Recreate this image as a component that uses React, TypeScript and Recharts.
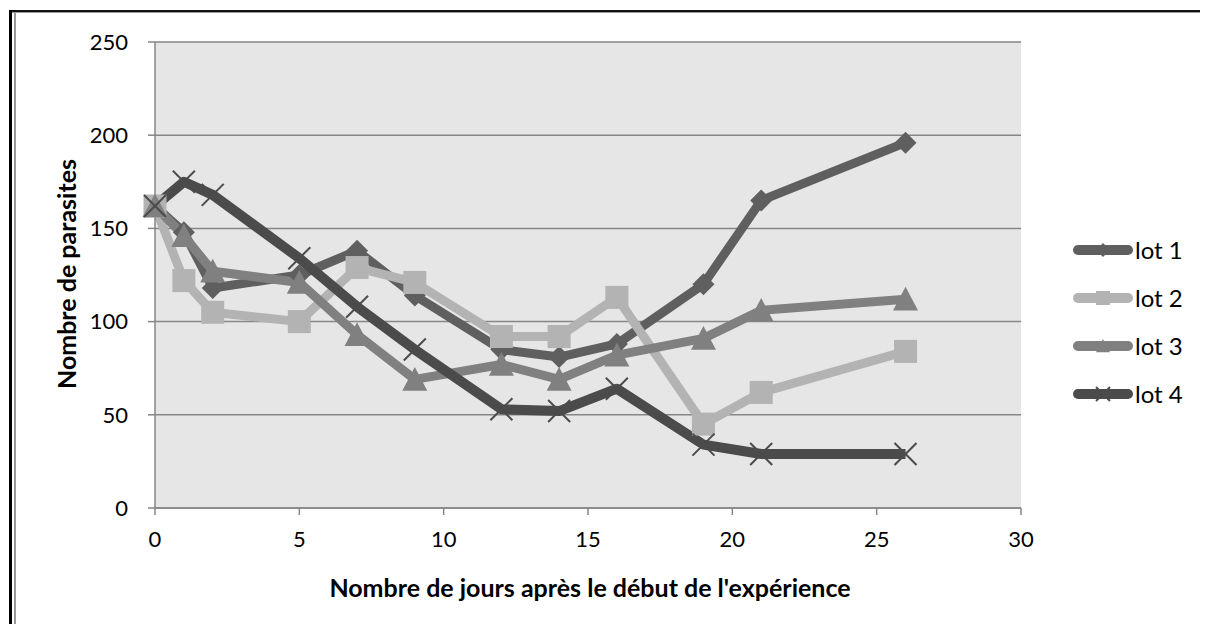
import React from "react";
import { LineChart, Line, XAxis, YAxis, CartesianGrid } from "recharts";

const days = [0, 1, 2, 5, 7, 9, 12, 14, 16, 19, 21, 26];
const lot1 = [162, 148, 118, 125, 138, 114, 85, 81, 88, 120, 165, 196];
const lot2 = [162, 122, 105, 100, 129, 121, 92, 92, 113, 45, 62, 84];
const lot3 = [162, 146, 127, 121, 93, 69, 77, 69, 82, 91, 106, 112];
const lot4 = [162, 175, 168, 134, 108, 85, 53, 52, 64, 34, 29, 29];
const xTicks = [0, 5, 10, 15, 20, 25, 30];
const yTicks = [0, 50, 100, 150, 200, 250];
const seriesNames = ["lot 1", "lot 2", "lot 3", "lot 4"];

const data = days.map((d, i) => ({
  day: d,
  lot1: lot1[i],
  lot2: lot2[i],
  lot3: lot3[i],
  lot4: lot4[i],
}));

const C1 = "#5f5f5f";
const C2 = "#b3b3b3";
const C3 = "#808080";
const C4 = "#4b4b4b";
const FONT = "Lato, 'Open Sans', sans-serif";

type MP = { cx?: number; cy?: number; s?: number };

const Diamond = ({ cx = 0, cy = 0, s = 11 }: MP) => (
  <polygon points={`${cx},${cy - s} ${cx + s},${cy} ${cx},${cy + s} ${cx - s},${cy}`} fill={C1} />
);
const Square = ({ cx = 0, cy = 0, s = 11.5 }: MP) => (
  <rect x={cx - s} y={cy - s} width={2 * s} height={2 * s} fill={C2} />
);
const Triangle = ({ cx = 0, cy = 0, s = 12.5 }: MP) => (
  <polygon points={`${cx},${cy - s} ${cx + s},${cy + s * 0.9} ${cx - s},${cy + s * 0.9}`} fill={C3} />
);
const Cross = ({ cx = 0, cy = 0, s = 11 }: MP) => (
  <g stroke={C4} strokeWidth={2}>
    <line x1={cx - s} y1={cy - s} x2={cx + s} y2={cy + s} />
    <line x1={cx - s} y1={cy + s} x2={cx + s} y2={cy - s} />
  </g>
);

const markers = [Diamond, Square, Triangle, Cross];
const colors = [C1, C2, C3, C4];

const LegendBox = () => (
  <div style={{ position: "absolute", left: 1060, top: 218, width: 140, fontFamily: FONT, fontSize: 24, color: "#000" }}>
    {seriesNames.map((n, i) => {
      const M = markers[i];
      return (
        <div key={n} style={{ height: 48, display: "flex", alignItems: "center" }}>
          <svg width={67} height={24} style={{ display: "block" }}>
            <line x1={10} y1={12} x2={60} y2={12} stroke={colors[i]} strokeWidth={10} strokeLinecap="round" />
            <M cx={35} cy={12} s={7} />
          </svg>
          <span style={{ lineHeight: "24px" }}>{n}</span>
        </div>
      );
    })}
  </div>
);

export default function App() {
  return (
    <div style={{ position: "relative", width: 1200, height: 616, background: "#fff" }}>
      <div style={{ position: "absolute", left: 1, top: 2, width: 1199, height: 2, background: "#111" }} />
      <div style={{ position: "absolute", left: 4, top: 4, width: 1196, height: 1, background: "#999" }} />
      <div style={{ position: "absolute", left: 1, top: 2, width: 3, height: 614, background: "#000" }} />
      <div style={{ position: "absolute", left: 6, top: 4, width: 2, height: 612, background: "#999" }} />
      <LineChart
        width={1200}
        height={616}
        data={data}
        margin={{ top: 34, right: 187, bottom: 36, left: 0 }}
        style={{ position: "absolute", left: 0, top: 0 }}
      >
        <CartesianGrid vertical={false} stroke="#868686" strokeWidth={1.5} fill="#e6e6e6" fillOpacity={1} />
        <XAxis
          dataKey="day"
          type="number"
          domain={[0, 30]}
          ticks={xTicks}
          height={80}
          stroke="#868686"
          strokeWidth={1.5}
          tickSize={7}
          tickMargin={16}
          tick={{ fill: "#000", fontSize: 22, fontFamily: FONT }}
        />
        <YAxis
          type="number"
          domain={[0, 250]}
          ticks={yTicks}
          width={147}
          stroke="#868686"
          strokeWidth={1.5}
          tickSize={7}
          tickMargin={20}
          tick={{ fill: "#000", fontSize: 22, fontFamily: FONT }}
        />
        <Line dataKey="lot1" name="lot 1" stroke={C1} strokeWidth={9} strokeLinejoin="round" isAnimationActive={false}
          dot={(p: any) => <Diamond key={`d1-${p.index}`} cx={p.cx} cy={p.cy} />} />
        <Line dataKey="lot2" name="lot 2" stroke={C2} strokeWidth={9} strokeLinejoin="round" isAnimationActive={false}
          dot={(p: any) => <Square key={`d2-${p.index}`} cx={p.cx} cy={p.cy} />} />
        <Line dataKey="lot3" name="lot 3" stroke={C3} strokeWidth={9} strokeLinejoin="round" isAnimationActive={false}
          dot={(p: any) => <Triangle key={`d3-${p.index}`} cx={p.cx} cy={p.cy} />} />
        <Line dataKey="lot4" name="lot 4" stroke={C4} strokeWidth={10} strokeLinejoin="round" isAnimationActive={false}
          dot={(p: any) => <Cross key={`d4-${p.index}`} cx={p.cx} cy={p.cy} />} />
      </LineChart>
      <LegendBox />
      <div style={{ position: "absolute", left: 0, width: 1164, top: 564, textAlign: "center", fontFamily: FONT, fontWeight: 700, fontSize: 25, color: "#000", lineHeight: "30px", whiteSpace: "nowrap" }}>
        Nombre de jours après le début de l'expérience
      </div>
      <div style={{ position: "absolute", left: 58, top: 266, width: 0, height: 0 }}>
        <div style={{ position: "absolute", left: -150, top: -15, width: 300, textAlign: "center", transform: "rotate(-90deg)", fontFamily: FONT, fontWeight: 700, fontSize: 25, color: "#000", lineHeight: "30px", whiteSpace: "nowrap" }}>
          Nombre de parasites
        </div>
      </div>
    </div>
  );
}
